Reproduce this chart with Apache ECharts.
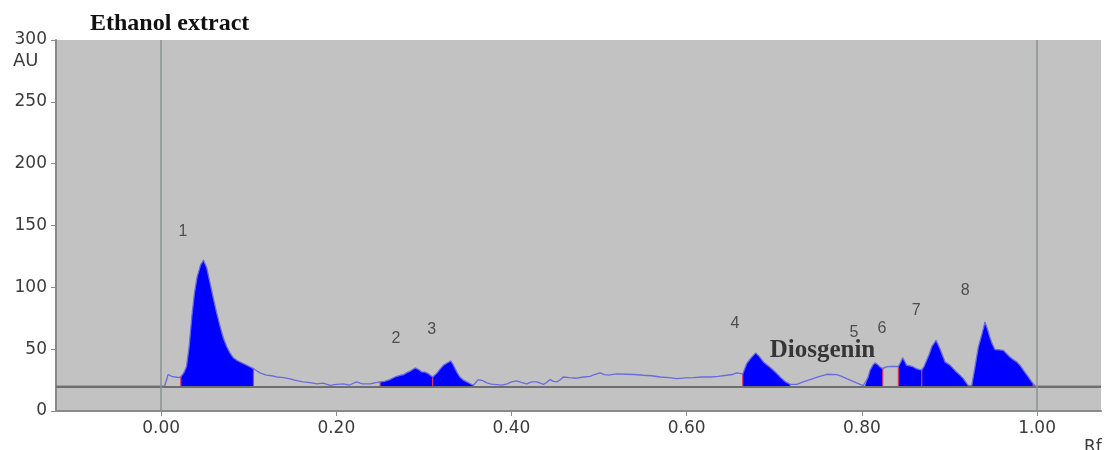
<!DOCTYPE html>
<html>
<head>
<meta charset="utf-8">
<script src="https://cdn.jsdelivr.net/npm/echarts@6/dist/echarts.min.js"></script>
<style>
html,body{margin:0;padding:0;background:#fff;}
#chart{width:1104px;height:450px;}
</style>
</head>
<body>
<div id="chart"></div>
<script>
// ---- data ----
const titleText = 'Ethanol extract';
const baselineAU = 20;
const xTickValues = [0, 0.2, 0.4, 0.6, 0.8, 1.0];

const traceRf = [
  -0.12, 0.0, 0.004, 0.008, 0.012, 0.016, 0.02, 0.0225,
  0.026, 0.029, 0.032, 0.035, 0.038, 0.041, 0.045, 0.0483, 0.052, 0.056, 0.06, 0.0636, 0.0675, 0.0711, 0.075, 0.0788, 0.0825, 0.0864, 0.092, 0.0978, 0.1054,
  0.109, 0.113, 0.12, 0.126, 0.132, 0.14, 0.147, 0.155, 0.162, 0.17, 0.178, 0.185, 0.193, 0.2, 0.208, 0.215, 0.223, 0.23, 0.239, 0.245, 0.25,
  0.255, 0.261, 0.267, 0.273, 0.277, 0.28, 0.285, 0.29, 0.294, 0.2976, 0.301, 0.305, 0.31,
  0.3147, 0.318, 0.3223, 0.327, 0.3307, 0.333, 0.3356, 0.338, 0.341, 0.345, 0.349, 0.353, 0.3566,
  0.362, 0.367, 0.372, 0.377, 0.383, 0.389, 0.395, 0.4, 0.406, 0.412, 0.4174, 0.423, 0.429, 0.4364, 0.44, 0.444, 0.448, 0.4517, 0.456, 0.459, 0.466, 0.4745, 0.482, 0.4897, 0.495, 0.5011, 0.506, 0.5106, 0.52, 0.5316, 0.54, 0.5506, 0.56, 0.5696, 0.58, 0.5887, 0.598, 0.6077, 0.617, 0.6267, 0.636, 0.6457, 0.652, 0.657, 0.664,
  0.6686, 0.6735, 0.6788, 0.683, 0.6876, 0.693, 0.699, 0.704, 0.7085, 0.713, 0.718,
  0.7256, 0.733, 0.7409, 0.75, 0.76, 0.7713, 0.777, 0.7827, 0.79, 0.794, 0.798, 0.8017, 0.8037,
  0.807, 0.8094, 0.8125, 0.815, 0.818, 0.8208, 0.8238,
  0.827, 0.832, 0.837, 0.8417,
  0.844, 0.8466, 0.849, 0.8511, 0.855, 0.8588, 0.863, 0.8683,
  0.871, 0.874, 0.877, 0.8797, 0.8847, 0.889, 0.892, 0.895, 0.9007, 0.904, 0.908, 0.912, 0.9158, 0.919, 0.9216, 0.9235,
  0.9254, 0.929, 0.933, 0.937, 0.9406, 0.943, 0.946, 0.949, 0.952, 0.957, 0.9616, 0.965, 0.969, 0.973, 0.9768, 0.981, 0.9844, 0.99, 0.994, 0.9955,
  0.998, 1.0, 1.073
];
const traceAU = [
  20, 20, 20, 29.5, 28, 27.5, 27, 27.5,
  31, 36, 52, 76, 95, 108, 118, 122, 116, 103, 90, 79, 68, 59, 52, 46.7, 43, 41, 39, 37, 34.3,
  32.5, 30.8, 29, 28.5, 27.5, 27, 26, 24.5, 23.5, 23, 22, 22.5, 20.8, 21.5, 22, 21, 23.5, 22, 22, 23, 23.5,
  24, 25.4, 27.5, 28.9, 29.5, 30.8, 32.5, 34.8, 33.5, 31.6, 31.5, 30.2, 27.5,
  30.5, 33.5, 37, 39, 40.5, 38, 34.3, 31, 27.5, 25, 23.5, 22, 20.8,
  25.4, 24.5, 22.7, 21.8, 21.4, 21, 22, 23.5, 24.3, 23, 22, 23.5, 23.5, 21.5, 23, 25.4, 24, 23.5, 25.5, 27.5, 27, 26.5, 27.5, 28, 29.5, 30.8, 29.5, 29, 30, 29.7, 29.5, 28.9, 28.5, 27.5, 27, 26.2, 26.8, 27, 27.5, 27.5, 28, 28.9, 29.5, 30.8, 30,
  38.4, 43, 47, 44, 39.7, 36.5, 33, 29.5, 26.2, 23.5, 21.6,
  21.6, 23.5, 25.4, 27.5, 29.7, 29.4, 28, 26.2, 24, 22.7, 21.5, 20.5, 20.5,
  27, 33, 37, 38.9, 37.5, 35.6, 34.3,
  35.5, 36, 36, 36,
  39, 43, 40, 37, 36.5, 35.6, 34, 33,
  36, 41, 46, 51.8, 57.2, 50.5, 45, 39.7, 37, 34.5, 31.6, 29, 26.2, 23, 20.5, 20,
  20.5, 35, 51.8, 62, 72, 67, 59.9, 54, 49.7, 49.5, 49, 46.5, 43.7, 41.5, 39.7, 36.5, 33, 27.5, 23.5, 22,
  20, 20, 20
];

// integrated peak windows (Rf)
const peakStartRf = [0.0225, 0.25, 0.31, 0.664, 0.8037, 0.8417, 0.8683, 0.9254];
const peakEndRf   = [0.1054, 0.31, 0.3566, 0.718, 0.8238, 0.8683, 0.9216, 0.9955];

// peak number annotations
const peakLabels  = ['1', '2', '3', '4', '5', '6', '7', '8'];
const peakLabelRf = [0.025, 0.268, 0.309, 0.655, 0.791, 0.823, 0.862, 0.918];
const peakLabelAU = [145, 58.5, 66, 71, 63, 67, 81, 97];

const compoundName = 'Diosgenin';
const compoundRf = 0.755;
const compoundAU = 48.5;

// ---- helpers ----
const tracePts = traceRf.map((x, i) => [x, traceAU[i]]);
function auAt(rf) {
  for (let i = 0; i < traceRf.length - 1; i++) {
    if (rf >= traceRf[i] && rf <= traceRf[i + 1]) {
      const t = (rf - traceRf[i]) / ((traceRf[i + 1] - traceRf[i]) || 1);
      return traceAU[i] + t * (traceAU[i + 1] - traceAU[i]);
    }
  }
  return baselineAU;
}
function peakPoints(i) {
  const s = peakStartRf[i], e = peakEndRf[i];
  const pts = [[s, baselineAU], [s, auAt(s)]];
  tracePts.forEach(p => { if (p[0] > s && p[0] < e) pts.push(p); });
  pts.push([e, auAt(e)], [e, baselineAU]);
  return pts;
}

const chart = echarts.init(document.getElementById('chart'), null, {renderer: 'canvas'});

const option = {
  animation: false,
  backgroundColor: '#ffffff',
  title: {
    text: titleText,
    left: 85, top: 7,
    textStyle: {fontFamily: 'Liberation Serif', fontWeight: 'bold', fontSize: 24, color: '#111'}
  },
  grid: {
    left: 56, right: 3, top: 40, bottom: 39,
    show: true, backgroundColor: '#c2c2c2', borderWidth: 0
  },
  xAxis: {
    type: 'value', min: -0.12, max: 1.073,
    axisLine: {show: true, onZero: false, lineStyle: {color: '#8a8a8a', width: 2}},
    axisTick: {show: true, length: 5, customValues: xTickValues, lineStyle: {color: '#8a8a8a'}},
    axisLabel: {customValues: xTickValues, formatter: v => v.toFixed(2), color: '#3c3c3c',
                fontFamily: 'DejaVu Sans', fontSize: 17, margin: 9},
    splitLine: {show: false}
  },
  yAxis: {
    type: 'value', min: 0, max: 300, interval: 50,
    axisLine: {show: true, onZero: false, lineStyle: {color: '#8a8a8a', width: 2}},
    axisTick: {show: true, length: 5, lineStyle: {color: '#8a8a8a'}},
    axisLabel: {color: '#3c3c3c', fontFamily: 'DejaVu Sans', fontSize: 17, margin: 9},
    splitLine: {show: false}
  },
  graphic: [
    {type: 'text', left: 13, top: 52, style: {text: 'AU', fill: '#3c3c3c', font: '18px "DejaVu Sans"'}},
    {type: 'text', left: 1084, top: 439, style: {text: 'Rf', fill: '#3c3c3c', font: '17px "DejaVu Sans"'}}
  ],
  series: [
    {
      // reference lines: baseline and Rf 0 / 1 markers
      type: 'line', data: [], z: 1, silent: true,
      markLine: {
        symbol: 'none', silent: true, label: {show: false},
        data: [
          {yAxis: baselineAU, lineStyle: {color: '#6e6e6e', width: 2, type: 'solid'}},
          {xAxis: 0, lineStyle: {color: '#889292', width: 1.5, type: 'solid'}},
          {xAxis: 1, lineStyle: {color: '#889292', width: 1.5, type: 'solid'}}
        ]
      }
    },
    {
      // filled integrated peaks
      type: 'custom', z: 2, clip: true,
      data: peakStartRf.map((s, i) => [s, peakEndRf[i]]),
      encode: {x: [0, 1]},
      renderItem: function (params, api) {
        const i = params.dataIndex;
        const pts = peakPoints(i).map(p => api.coord(p));
        const s = peakStartRf[i], e = peakEndRf[i];
        const a0 = api.coord([s, baselineAU]), a1 = api.coord([s, auAt(s)]);
        const b0 = api.coord([e, baselineAU]), b1 = api.coord([e, auAt(e)]);
        return {
          type: 'group',
          children: [
            {type: 'polygon', shape: {points: pts}, style: {fill: '#0000ff'}},
            {type: 'line', shape: {x1: a0[0], y1: a0[1], x2: a1[0], y2: a1[1]}, style: {stroke: '#e0306a', lineWidth: 1.2}},
            {type: 'line', shape: {x1: b0[0], y1: b0[1], x2: b1[0], y2: b1[1]}, style: {stroke: '#e0306a', lineWidth: 1.2}}
          ]
        };
      }
    },
    {
      // densitometric trace
      type: 'line', z: 3, data: tracePts, showSymbol: false, smooth: false,
      lineStyle: {color: '#6a6ae0', width: 1.3}
    },
    {
      // peak numbers
      type: 'scatter', z: 4, symbolSize: 0, silent: true,
      data: peakLabelRf.map((x, i) => ({value: [x, peakLabelAU[i]], name: peakLabels[i]})),
      label: {show: true, position: 'inside', formatter: p => p.name,
              color: '#303030', fontFamily: 'Liberation Sans', fontSize: 16}
    },
    {
      type: 'scatter', z: 4, symbolSize: 0, silent: true,
      data: [{value: [compoundRf, compoundAU], name: compoundName}],
      label: {show: true, position: 'inside', formatter: p => p.name,
              color: '#111', fontFamily: 'Liberation Serif', fontWeight: 'bold', fontSize: 25}
    }
  ]
};
chart.setOption(option);
</script>
</body>
</html>
